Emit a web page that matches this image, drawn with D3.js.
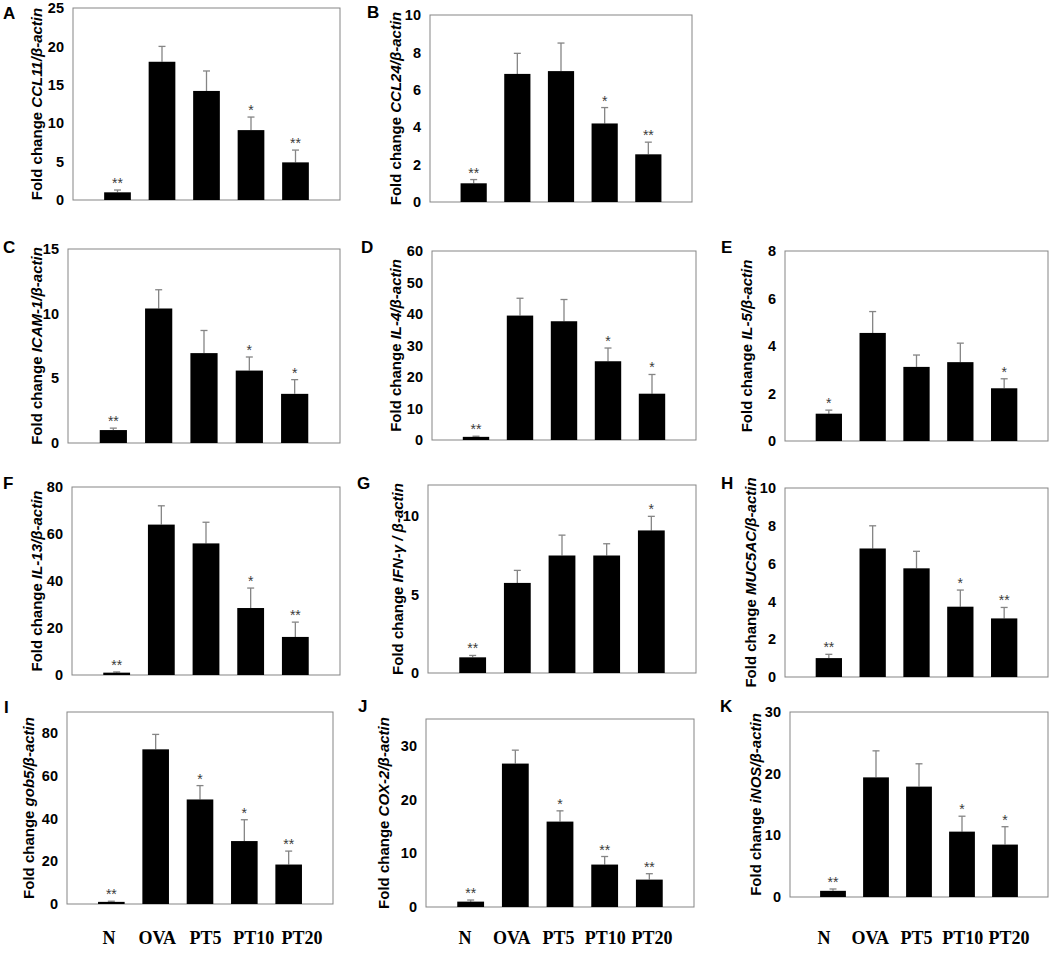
<!DOCTYPE html>
<html>
<head>
<meta charset="utf-8">
<script src="https://cdn.jsdelivr.net/npm/d3@7/dist/d3.min.js"></script>
<style>
  body { margin: 0; background: #fff; }
  svg { display: block; }
</style>
</head>
<body>
<div id="main"></div>
<script>
// groups on the x axis
var groups = ["N", "OVA", "PT5", "PT10", "PT20"];

// one entry per panel
var letters = ["A", "B", "C", "D", "E", "F", "G", "H", "I", "J", "K"];
var genes = ["CCL11", "CCL24", "ICAM-1", "IL-4", "IL-5", "IL-13", "IFN-\u03b3", "MUC5AC", "gob5", "COX-2", "iNOS"];
var yMax = [25, 10, 15, 60, 8, 80, 12, 10, 90, 35, 30];
var yStep = [5, 2, 5, 10, 2, 20, 5, 2, 20, 10, 10];

// mean fold change, SEM and significance marks per gene
var ccl11Mean = [1.0, 18.0, 14.2, 9.1, 4.9],    ccl11Sem = [0.3, 2.0, 2.6, 1.7, 1.6],     ccl11Sig = ["**", "", "", "*", "**"];
var ccl24Mean = [1.0, 6.85, 7.0, 4.2, 2.55],    ccl24Sem = [0.2, 1.1, 1.5, 0.85, 0.65],   ccl24Sig = ["**", "", "", "*", "**"];
var icam1Mean = [1.0, 10.4, 6.95, 5.6, 3.8],    icam1Sem = [0.15, 1.45, 1.75, 1.05, 1.1], icam1Sig = ["**", "", "", "*", "*"];
var il4Mean   = [1.0, 39.5, 37.7, 25.0, 14.7],  il4Sem   = [0.2, 5.5, 6.9, 4.2, 6.1],     il4Sig   = ["**", "", "", "*", "*"];
var il5Mean   = [1.15, 4.55, 3.12, 3.32, 2.22], il5Sem   = [0.15, 0.9, 0.5, 0.8, 0.4],    il5Sig   = ["*", "", "", "", "*"];
var il13Mean  = [1.0, 64, 56, 28.5, 16.2],      il13Sem  = [0.3, 8, 9, 8.5, 6.3],         il13Sig  = ["**", "", "", "*", "**"];
var ifngMean  = [1.0, 5.75, 7.5, 7.5, 9.1],     ifngSem  = [0.12, 0.8, 1.3, 0.75, 0.9],   ifngSig  = ["**", "", "", "", "*"];
var muc5Mean  = [1.0, 6.8, 5.75, 3.72, 3.1],    muc5Sem  = [0.2, 1.2, 0.9, 0.88, 0.58],   muc5Sig  = ["**", "", "", "*", "**"];
var gob5Mean  = [1.0, 72.5, 49, 29.5, 18.5],    gob5Sem  = [0.3, 7, 6.5, 10, 6.3],        gob5Sig  = ["**", "", "*", "*", "**"];
var cox2Mean  = [1.0, 26.7, 15.9, 7.9, 5.1],    cox2Sem  = [0.3, 2.5, 2.0, 1.5, 1.1],     cox2Sig  = ["**", "", "*", "**", "**"];
var inosMean  = [1.0, 19.4, 17.9, 10.6, 8.5],   inosSem  = [0.3, 4.3, 3.7, 2.5, 2.9],     inosSig  = ["**", "", "", "*", "*"];

var means = [ccl11Mean, ccl24Mean, icam1Mean, il4Mean, il5Mean, il13Mean, ifngMean, muc5Mean, gob5Mean, cox2Mean, inosMean];
var sems  = [ccl11Sem, ccl24Sem, icam1Sem, il4Sem, il5Sem, il13Sem, ifngSem, muc5Sem, gob5Sem, cox2Sem, inosSem];
var sigs  = [ccl11Sig, ccl24Sig, icam1Sig, il4Sig, il5Sig, il13Sig, ifngSig, muc5Sig, gob5Sig, cox2Sig, inosSig];

// layout: plot box [left, top, right, bottom], y title x, letter x/y
var boxes = [
  [73, 8, 340, 200], [430, 15, 692, 202],
  [68, 249, 340, 443], [432, 251, 696, 440], [785, 251, 1048, 441],
  [72, 487, 340, 675], [428, 485, 696, 673], [785, 488, 1048, 677],
  [67, 712, 333, 904], [426, 719, 694, 907], [790, 712, 1048, 897]
];
var titleX = [42, 401, 42, 401, 752, 42, 403, 756, 34, 389, 761];
var letterPos = [[3, 19], [367, 18], [3, 253], [361, 253], [721, 253], [3, 489], [357, 489], [721, 489], [4, 713], [358, 712], [720, 712]];
// x label spans for the bottom row (typed under the panels)
var labelSpan = {8: [109, 302], 9: [465, 652], 10: [824, 1009]};

var sans = "'Liberation Sans', Arial, sans-serif";
var grey = "#858585";

var svg = d3.select("#main")
  .append("svg")
    .attr("width", 1052)
    .attr("height", 954);

letters.forEach(function(letter, i) {
  var b = boxes[i],
      w = b[2] - b[0],
      h = b[3] - b[1];

  var g = svg.append("g")
    .attr("transform", "translate(" + b[0] + "," + b[1] + ")");

  var x = d3.scalePoint()
    .domain(groups)
    .range([0, w])
    .padding(1);
  var barW = x.step() * 0.6;

  var y = d3.scaleLinear()
    .domain([0, yMax[i]])
    .range([h, 0]);

  // y axis labels
  var ax = g.append("g")
    .call(d3.axisLeft(y)
      .tickValues(d3.range(0, yMax[i] + 0.001, yStep[i]))
      .tickSize(0)
      .tickPadding(9));
  ax.select(".domain").remove();
  ax.selectAll("text")
    .style("font-family", sans)
    .style("font-size", "14.5px")
    .style("font-weight", "bold")
    .attr("fill", "#000");

  // plot frame
  g.append("rect")
    .attr("x", 0)
    .attr("y", 0)
    .attr("width", w)
    .attr("height", h)
    .attr("fill", "none")
    .attr("stroke", grey)
    .attr("stroke-width", 1);

  var rows = groups.map(function(k, j) {
    return {k: k, m: means[i][j], e: sems[i][j], s: sigs[i][j]};
  });

  // error bars
  g.selectAll(".err")
    .data(rows)
    .enter()
    .append("line")
      .attr("x1", function(d) { return x(d.k); })
      .attr("x2", function(d) { return x(d.k); })
      .attr("y1", function(d) { return y(d.m); })
      .attr("y2", function(d) { return y(d.m + d.e); })
      .attr("stroke", grey)
      .attr("stroke-width", 1.3);
  g.selectAll(".cap")
    .data(rows)
    .enter()
    .append("line")
      .attr("x1", function(d) { return x(d.k) - 3.5; })
      .attr("x2", function(d) { return x(d.k) + 3.5; })
      .attr("y1", function(d) { return y(d.m + d.e); })
      .attr("y2", function(d) { return y(d.m + d.e); })
      .attr("stroke", grey)
      .attr("stroke-width", 1.3);

  // bars
  g.selectAll(".bar")
    .data(rows)
    .enter()
    .append("rect")
      .attr("x", function(d) { return x(d.k) - barW / 2; })
      .attr("y", function(d) { return y(d.m); })
      .attr("width", barW)
      .attr("height", function(d) { return h - y(d.m); })
      .attr("fill", "#000");

  // significance stars
  g.selectAll(".sig")
    .data(rows)
    .enter()
    .append("text")
      .attr("x", function(d) { return x(d.k); })
      .attr("y", function(d) { return y(d.m + d.e) - 2; })
      .attr("text-anchor", "middle")
      .style("font-family", sans)
      .style("font-size", "14px")
      .attr("fill", "#3a3a3a")
      .text(function(d) { return d.s; });

  // y title
  var t = svg.append("text")
    .attr("transform", "translate(" + titleX[i] + "," + (b[1] + h / 2) + ")rotate(-90)")
    .attr("text-anchor", "middle")
    .style("font-family", sans)
    .style("font-size", "15px")
    .style("font-weight", "bold");
  t.append("tspan").text("Fold change ");
  t.append("tspan")
    .style("font-style", "italic")
    .text(genes[i] + (i === 6 ? " / " : "/") + "\u03b2-actin");

  // panel letter
  svg.append("text")
    .attr("x", letterPos[i][0])
    .attr("y", letterPos[i][1])
    .style("font-family", sans)
    .style("font-size", "17px")
    .style("font-weight", "bold")
    .text(letter);

  // group labels under the bottom row
  if (labelSpan[i]) {
    var lx = d3.scalePoint()
      .domain(groups)
      .range(labelSpan[i]);
    svg.selectAll(".lab" + i)
      .data(groups)
      .enter()
      .append("text")
        .attr("x", function(d) { return lx(d); })
        .attr("y", 944)
        .attr("text-anchor", "middle")
        .style("font-family", "'Liberation Serif', 'Times New Roman', serif")
        .style("font-size", "18px")
        .style("font-weight", "bold")
        .text(function(d) { return d; });
  }
});
</script>
</body>
</html>
